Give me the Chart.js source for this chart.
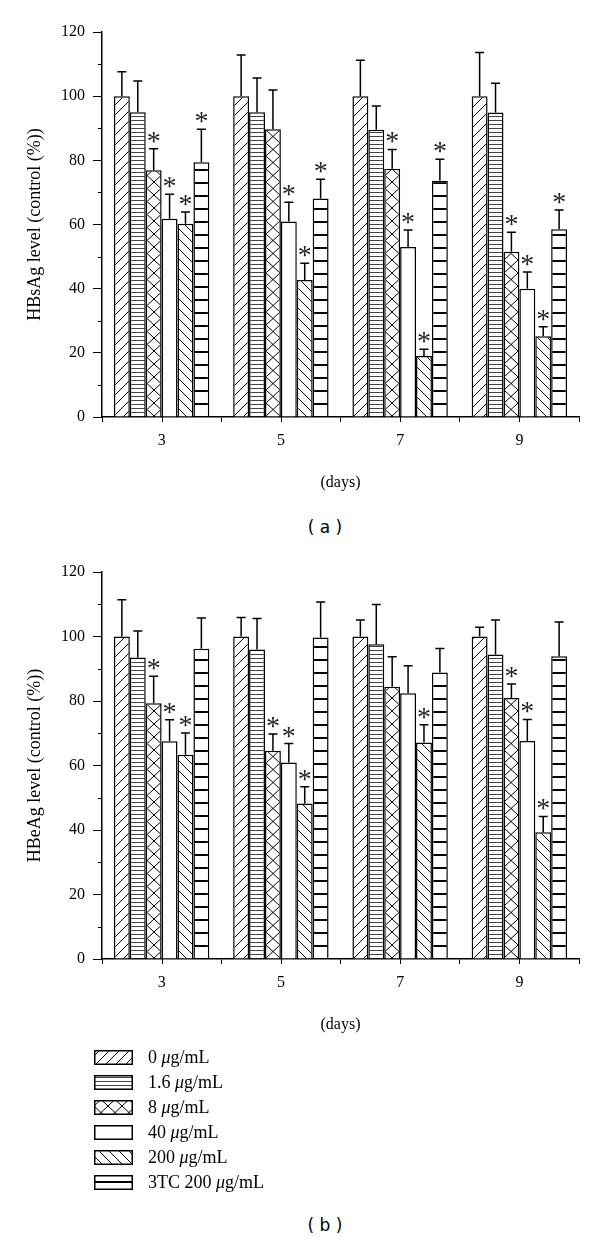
<!DOCTYPE html>
<html>
<head>
<meta charset="utf-8">
<title>HBsAg / HBeAg levels</title>
<script src="https://cdn.jsdelivr.net/npm/chart.js"></script>
<style>
  body { margin: 0; background: #fff; }
  #page { position: relative; width: 600px; height: 1242px; font-family: 'Liberation Serif', serif; color: #000; }
  canvas { position: absolute; left: 0; }
  .cap { position: absolute; left: 0; width: 650px; text-align: center; font-family: 'DejaVu Sans', sans-serif; font-size: 17px; }
  #legend { position: absolute; left: 94px; top: 1045px; font-size: 18px; }
  .row { height: 25px; display: flex; align-items: center; }
  .row canvas { position: static; margin-right: 15px; }
</style>
</head>
<body>
<div id="page">
  <canvas id="chartA" width="600" height="500" style="top:0"></canvas>
  <div class="cap" style="top:517px">( a )</div>
  <canvas id="chartB" width="600" height="500" style="top:542px"></canvas>
  <div id="legend"></div>
  <div class="cap" style="top:1215px">( b )</div>
</div>

<script>
  var days = ['3', '5', '7', '9'];
  var doses = ['0 μg/mL', '1.6 μg/mL', '8 μg/mL', '40 μg/mL', '200 μg/mL', '3TC 200 μg/mL'];
  var fills = ['slash', 'fineLines', 'cross', 'blank', 'backslash', 'wideLines'];

  // (a) HBsAg, one row per dose, columns = days 3, 5, 7, 9
  var sAgMean = [
    [100, 100, 100, 100],
    [95.0, 95.0, 89.5, 94.9],
    [76.9, 89.7, 77.4, 51.5],
    [61.8, 60.9, 53.0, 40.0],
    [60.2, 42.7, 19.0, 25.2],
    [79.4, 68.1, 73.6, 58.5]
  ];
  var sAgSd = [
    [7.6, 12.8, 11.2, 13.6],
    [9.7, 10.7, 7.4, 9.1],
    [6.7, 12.2, 6.0, 6.1],
    [7.6, 6.0, 5.3, 5.2],
    [3.7, 5.2, 2.1, 2.9],
    [10.3, 6.0, 6.7, 6.0]
  ];
  var sAgStar = [
    [0, 0, 0, 0],
    [0, 0, 0, 0],
    [1, 0, 1, 1],
    [1, 1, 1, 1],
    [1, 1, 1, 1],
    [1, 1, 1, 1]
  ];

  // (b) HBeAg
  var eAgMean = [
    [100, 100, 100, 100],
    [93.5, 96.0, 97.6, 94.4],
    [79.3, 64.6, 84.4, 80.9],
    [67.5, 60.9, 82.4, 67.6],
    [63.3, 48.2, 67.1, 39.3],
    [96.2, 99.7, 88.8, 93.9]
  ];
  var eAgSd = [
    [11.4, 5.9, 5.1, 2.9],
    [8.2, 9.6, 12.3, 10.7],
    [8.4, 5.2, 9.3, 4.4],
    [6.7, 5.9, 8.5, 6.7],
    [6.8, 5.2, 5.5, 4.9],
    [9.5, 11.0, 7.5, 10.6]
  ];
  var eAgStar = [
    [0, 0, 0, 0],
    [0, 0, 0, 0],
    [1, 1, 0, 1],
    [1, 1, 0, 1],
    [1, 1, 1, 1],
    [0, 0, 0, 0]
  ];

  var yTicks = [0, 20, 40, 60, 80, 100, 120];

  // hatch tiles for the bars
  function tile(kind) {
    var c = document.createElement('canvas');
    var w = 10, h = 10;
    if (kind == 'fineLines') { w = 4; h = 4; }
    if (kind == 'wideLines') { w = 13; h = 13; }
    if (kind == 'cross') { w = 14; h = 13; }
    c.width = w; c.height = h;
    var g = c.getContext('2d');
    g.fillStyle = '#fff';
    g.fillRect(0, 0, w, h);
    g.strokeStyle = '#000';
    g.lineWidth = 1;
    g.beginPath();
    if (kind == 'slash') {
      g.moveTo(-1, h + 1); g.lineTo(w + 1, -1);
      g.moveTo(-1, 1); g.lineTo(1, -1);
      g.moveTo(w - 1, h + 1); g.lineTo(w + 1, h - 1);
    } else if (kind == 'backslash') {
      g.moveTo(-1, -1); g.lineTo(w + 1, h + 1);
      g.moveTo(w - 1, -1); g.lineTo(w + 1, 1);
      g.moveTo(-1, h - 1); g.lineTo(1, h + 1);
    } else if (kind == 'cross') {
      g.moveTo(0, 0); g.lineTo(w, h);
      g.moveTo(0, h); g.lineTo(w, 0);
    } else if (kind == 'fineLines') {
      g.strokeStyle = '#444';
      g.moveTo(0, 0.5); g.lineTo(w, 0.5);
    } else if (kind == 'wideLines') {
      g.lineWidth = 2;
      g.moveTo(0, 1); g.lineTo(w, 1);
    }
    g.stroke();
    return c;
  }

  function pattern(ctx, kind) {
    if (kind == 'blank') return '#fff';
    return ctx.createPattern(tile(kind), 'repeat');
  }

  function makeChart(id, yTitle, means, sds, stars, topPad) {
    var canvas = document.getElementById(id);
    var ctx = canvas.getContext('2d');

    var errorBars = {
      id: 'errorBars',
      afterDatasetsDraw: function(chart) {
        var c = chart.ctx, y = chart.scales.y;
        c.save();
        c.strokeStyle = '#000';
        c.lineWidth = 1.5;
        c.fillStyle = '#222';
        c.font = '28px "Liberation Serif"';
        c.textAlign = 'center';
        c.textBaseline = 'alphabetic';
        chart.data.datasets.forEach(function(ds, i) {
          chart.getDatasetMeta(i).data.forEach(function(bar, j) {
            var top = y.getPixelForValue(ds.data[j] + sds[i][j]);
            c.beginPath();
            c.moveTo(bar.x, bar.y);
            c.lineTo(bar.x, top);
            c.moveTo(bar.x - 4.5, top);
            c.lineTo(bar.x + 4.5, top);
            c.stroke();
            if (stars[i][j]) c.fillText('*', bar.x, top + 1);
          });
        });
        c.restore();
      }
    };

    // ticks at category centres and minor y ticks
    var extraTicks = {
      id: 'extraTicks',
      afterDraw: function(chart) {
        var c = chart.ctx, x = chart.scales.x, y = chart.scales.y, a = chart.chartArea;
        c.save();
        c.strokeStyle = '#000';
        c.lineWidth = 1;
        c.beginPath();
        days.forEach(function(d, i) {
          var px = Math.round(x.getPixelForValue(i)) + 0.5;
          c.moveTo(px, a.bottom);
          c.lineTo(px, a.bottom + 5);
        });
        for (var v = 10; v < 120; v += 20) {
          var py = Math.round(y.getPixelForValue(v)) + 0.5;
          c.moveTo(a.left - 4, py);
          c.lineTo(a.left, py);
        }
        c.stroke();
        c.restore();
      }
    };

    var datasets = doses.map(function(d, i) {
      return {
        label: d,
        data: means[i],
        backgroundColor: pattern(ctx, fills[i]),
        borderColor: '#000',
        borderWidth: 1.5,
        categoryPercentage: 0.8,
        barPercentage: 1.0
      };
    });

    var serif = { family: "'Liberation Serif', serif", size: 16 };

    return new Chart(ctx, {
      type: 'bar',
      data: { labels: days, datasets: datasets },
      plugins: [errorBars, extraTicks],
      options: {
        responsive: false,
        animation: false,
        layout: { padding: { top: topPad, right: 21, left: 0, bottom: 0 } },
        plugins: {
          legend: { display: false },
          tooltip: { enabled: false }
        },
        scales: {
          x: {
            offset: true,
            grid: { offset: true, drawOnChartArea: false, tickLength: 5, color: '#000' },
            border: { color: '#000', width: 1.5 },
            ticks: { color: '#000', font: serif, padding: 9, maxRotation: 0 },
            title: { display: true, text: '(days)', color: '#000', font: serif, padding: { top: 0, bottom: 8 } },
            afterFit: function(s) { s.height = 83; }
          },
          y: {
            min: 0,
            max: 120,
            afterBuildTicks: function(s) { s.ticks = yTicks.map(function(v) { return { value: v }; }); },
            grid: { drawOnChartArea: false, tickLength: 9, color: '#000' },
            border: { color: '#000', width: 1.5 },
            ticks: { color: '#000', font: serif, padding: 8 },
            title: { display: true, text: yTitle, color: '#000', font: { family: "'Liberation Serif', serif", size: 18 }, padding: { top: 24 } },
            afterFit: function(s) { s.width = 102; }
          }
        }
      }
    });
  }

  makeChart('chartA', 'HBsAg level (control (%))', sAgMean, sAgSd, sAgStar, 32);
  makeChart('chartB', 'HBeAg level (control (%))', eAgMean, eAgSd, eAgStar, 30);

  // legend with the same hatch fills
  var legend = document.getElementById('legend');
  doses.forEach(function(d, i) {
    var row = document.createElement('div');
    row.className = 'row';
    var sw = document.createElement('canvas');
    sw.width = 39; sw.height = 15;
    var g = sw.getContext('2d');
    g.translate(0, 6);
    g.fillStyle = pattern(g, fills[i]);
    g.fillRect(0, -6, 39, 15);
    g.setTransform(1, 0, 0, 1, 0, 0);
    g.strokeStyle = '#000';
    g.lineWidth = 1.5;
    g.strokeRect(0.75, 0.75, 37.5, 13.5);
    var txt = document.createElement('span');
    var parts = d.split('μ');
    txt.innerHTML = parts[0] + '<i>μ</i>' + parts[1];
    row.appendChild(sw);
    row.appendChild(txt);
    legend.appendChild(row);
  });
</script>
</body>
</html>
